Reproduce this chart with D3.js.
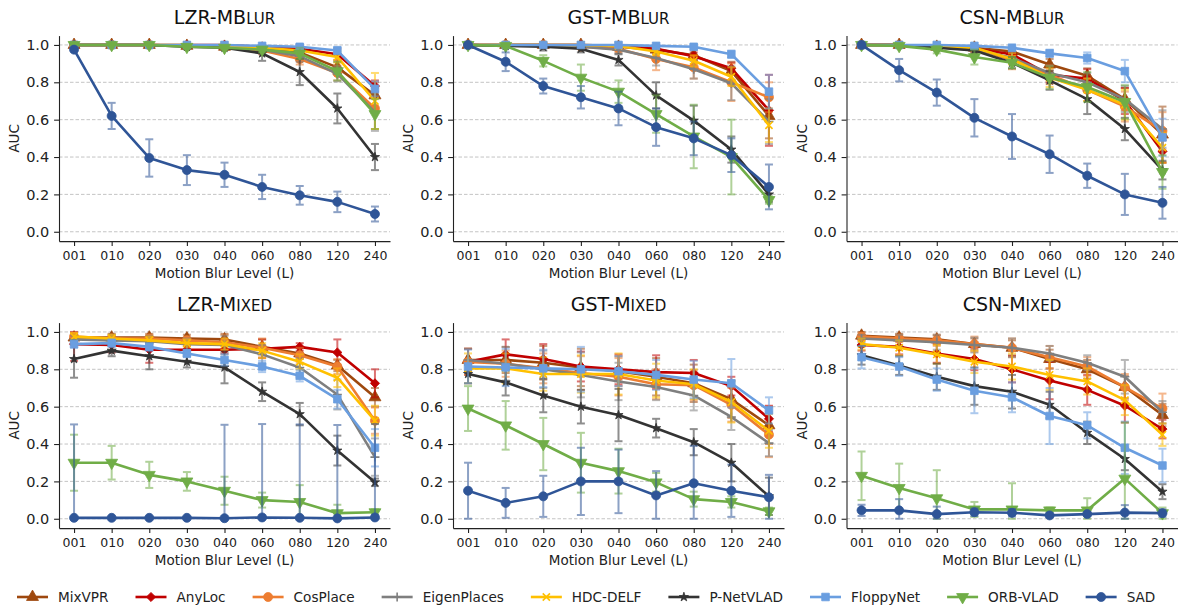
<!DOCTYPE html>
<html>
<head>
<meta charset="utf-8">
<style>
  body { margin: 0; background: #fff; }
  svg { display: block; font-family: "DejaVu Sans", sans-serif; }
</style>
</head>
<body>
<svg width="1180" height="605"></svg>
<script src="https://d3js.org/d3.v7.min.js"></script>
<script>
// ---- data ----
const levels = ["001", "010", "020", "030", "040", "060", "080", "120", "240"];
const methods = ["MixVPR", "AnyLoc", "CosPlace", "EigenPlaces", "HDC-DELF", "P-NetVLAD", "FloppyNet", "ORB-VLAD", "SAD"];
const yTicks = [0.0, 0.2, 0.4, 0.6, 0.8, 1.0];

// rows follow the methods order
const lzrMblurAuc = [
  [1.0, 1.0, 1.0, 0.995, 0.99, 0.98, 0.96, 0.88, 0.73],
  [1.0, 1.0, 1.0, 1.0, 1.0, 0.99, 0.98, 0.95, 0.78],
  [1.0, 1.0, 1.0, 0.995, 0.99, 0.97, 0.925, 0.85, 0.66],
  [1.0, 1.0, 1.0, 0.995, 0.99, 0.975, 0.94, 0.845, 0.64],
  [1.0, 1.0, 1.0, 1.0, 0.995, 0.985, 0.97, 0.935, 0.70],
  [1.0, 1.0, 1.0, 0.99, 0.985, 0.955, 0.855, 0.66, 0.40],
  [1.0, 1.0, 1.0, 1.0, 1.0, 0.995, 0.99, 0.97, 0.765],
  [1.0, 1.0, 1.0, 0.99, 0.985, 0.975, 0.955, 0.86, 0.63],
  [0.975, 0.62, 0.395, 0.33, 0.305, 0.24, 0.195, 0.16, 0.095]
];
const lzrMblurErr = [
  [0, 0, 0, 0.005, 0.01, 0.01, 0.02, 0.03, 0.07],
  [0.01, 0.01, 0.01, 0.01, 0.01, 0.01, 0.02, 0.03, 0.03],
  [0, 0, 0, 0.005, 0.01, 0.02, 0.03, 0.04, 0.11],
  [0, 0, 0, 0.005, 0.01, 0.02, 0.03, 0.04, 0.10],
  [0, 0, 0, 0, 0.005, 0.01, 0.02, 0.03, 0.15],
  [0, 0, 0, 0.01, 0.01, 0.04, 0.07, 0.08, 0.07],
  [0, 0, 0, 0, 0, 0.005, 0.01, 0.02, 0.04],
  [0, 0, 0, 0.01, 0.01, 0.015, 0.03, 0.05, 0.08],
  [0.01, 0.07, 0.1, 0.08, 0.065, 0.065, 0.05, 0.055, 0.04]
];

const gstMblurAuc = [
  [1.0, 1.0, 1.0, 1.0, 0.99, 0.975, 0.945, 0.86, 0.62],
  [1.0, 1.0, 1.0, 1.0, 0.995, 0.98, 0.94, 0.875, 0.65],
  [1.0, 1.0, 1.0, 0.99, 0.98, 0.925, 0.88, 0.80, 0.72],
  [1.0, 1.0, 1.0, 0.99, 0.975, 0.93, 0.87, 0.795, 0.59],
  [1.0, 1.0, 1.0, 1.0, 0.995, 0.965, 0.915, 0.83, 0.57],
  [1.0, 0.995, 0.99, 0.98, 0.92, 0.73, 0.595, 0.44, 0.20],
  [1.0, 1.0, 1.0, 1.0, 1.0, 0.995, 0.99, 0.95, 0.75],
  [1.0, 0.995, 0.915, 0.825, 0.75, 0.63, 0.51, 0.40, 0.17],
  [1.0, 0.91, 0.78, 0.72, 0.66, 0.56, 0.50, 0.41, 0.24]
];
const gstMblurErr = [
  [0, 0, 0, 0.005, 0.01, 0.02, 0.03, 0.05, 0.12],
  [0.01, 0.01, 0.01, 0.01, 0.01, 0.015, 0.02, 0.03, 0.19],
  [0, 0, 0, 0.01, 0.02, 0.06, 0.06, 0.1, 0.08],
  [0, 0, 0, 0.01, 0.02, 0.04, 0.05, 0.09, 0.12],
  [0, 0, 0, 0, 0.005, 0.02, 0.03, 0.05, 0.09],
  [0, 0.01, 0.02, 0.02, 0.03, 0.07, 0.08, 0.07, 0.04],
  [0, 0, 0, 0, 0, 0.005, 0.01, 0.02, 0.09],
  [0, 0.01, 0.03, 0.07, 0.06, 0.1, 0.17, 0.2, 0.02],
  [0.01, 0.05, 0.04, 0.06, 0.09, 0.1, 0.09, 0.09, 0.12]
];

const csnMblurAuc = [
  [1.0, 1.0, 0.99, 0.985, 0.965, 0.895, 0.835, 0.71, 0.52],
  [1.0, 1.0, 0.99, 0.98, 0.95, 0.84, 0.82, 0.70, 0.43],
  [1.0, 1.0, 0.99, 0.98, 0.92, 0.84, 0.76, 0.67, 0.54],
  [1.0, 1.0, 0.99, 0.98, 0.93, 0.85, 0.80, 0.71, 0.55],
  [1.0, 1.0, 0.99, 0.985, 0.925, 0.825, 0.76, 0.68, 0.45],
  [1.0, 1.0, 0.985, 0.97, 0.905, 0.81, 0.71, 0.55, 0.33],
  [1.0, 1.0, 1.0, 0.995, 0.985, 0.955, 0.93, 0.86, 0.505],
  [1.0, 0.995, 0.975, 0.935, 0.905, 0.825, 0.775, 0.695, 0.32],
  [1.0, 0.865, 0.745, 0.61, 0.51, 0.415, 0.30, 0.20, 0.155]
];
const csnMblurErr = [
  [0, 0, 0.01, 0.01, 0.02, 0.03, 0.04, 0.06, 0.15],
  [0.01, 0.01, 0.01, 0.02, 0.03, 0.04, 0.05, 0.07, 0.06],
  [0, 0, 0.01, 0.02, 0.05, 0.05, 0.06, 0.08, 0.1],
  [0, 0, 0.01, 0.02, 0.03, 0.04, 0.05, 0.07, 0.1],
  [0, 0, 0.01, 0.01, 0.03, 0.05, 0.06, 0.08, 0.08],
  [0, 0, 0.01, 0.02, 0.03, 0.05, 0.08, 0.06, 0.05],
  [0, 0, 0, 0.01, 0.01, 0.02, 0.03, 0.06, 0.1],
  [0, 0.01, 0.02, 0.04, 0.03, 0.06, 0.08, 0.09, 0.09],
  [0.01, 0.06, 0.07, 0.1, 0.12, 0.1, 0.065, 0.11, 0.085]
];

const lzrMixedAuc = [
  [0.97, 0.97, 0.97, 0.965, 0.96, 0.92, 0.885, 0.82, 0.65],
  [0.935, 0.93, 0.905, 0.905, 0.905, 0.91, 0.92, 0.89, 0.725],
  [0.975, 0.965, 0.965, 0.955, 0.945, 0.915, 0.875, 0.815, 0.525],
  [0.96, 0.955, 0.95, 0.935, 0.93, 0.88, 0.81, 0.665, 0.33],
  [0.975, 0.965, 0.955, 0.94, 0.935, 0.90, 0.84, 0.755, 0.525],
  [0.855, 0.90, 0.87, 0.84, 0.81, 0.68, 0.56, 0.365, 0.195],
  [0.935, 0.94, 0.92, 0.885, 0.85, 0.815, 0.765, 0.64, 0.38],
  [0.30, 0.30, 0.235, 0.20, 0.15, 0.10, 0.09, 0.03, 0.035],
  [0.005, 0.005, 0.005, 0.005, 0.003, 0.007, 0.005, 0.002, 0.007]
];
const lzrMixedErr = [
  [0.02, 0.02, 0.02, 0.02, 0.03, 0.04, 0.03, 0.03, 0.05],
  [0.09, 0.04, 0.07, 0.02, 0.02, 0.05, 0.02, 0.07, 0.075],
  [0.02, 0.02, 0.02, 0.02, 0.04, 0.05, 0.04, 0.04, 0.07],
  [0.02, 0.03, 0.03, 0.03, 0.05, 0.05, 0.05, 0.08, 0.1],
  [0.02, 0.02, 0.02, 0.02, 0.03, 0.04, 0.04, 0.05, 0.08],
  [0.1, 0.03, 0.07, 0.03, 0.085, 0.05, 0.06, 0.08, 0.02],
  [0.02, 0.02, 0.02, 0.02, 0.03, 0.03, 0.03, 0.05, 0.1],
  [0.15, 0.09, 0.07, 0.05, 0.075, 0.04, 0.09, 0.045, 0.015],
  [0.5, 0, 0, 0, 0.5, 0.5, 0.5, 0.5, 0.5]
];

const gstMixedAuc = [
  [0.85, 0.85, 0.835, 0.81, 0.79, 0.76, 0.725, 0.64, 0.50],
  [0.84, 0.88, 0.855, 0.815, 0.80, 0.785, 0.78, 0.71, 0.535],
  [0.84, 0.83, 0.805, 0.78, 0.76, 0.72, 0.715, 0.61, 0.45],
  [0.85, 0.83, 0.80, 0.77, 0.735, 0.705, 0.66, 0.545, 0.405],
  [0.805, 0.805, 0.775, 0.775, 0.775, 0.74, 0.72, 0.625, 0.47],
  [0.775, 0.73, 0.66, 0.60, 0.555, 0.485, 0.41, 0.30, 0.12],
  [0.815, 0.81, 0.805, 0.80, 0.79, 0.77, 0.745, 0.725, 0.58],
  [0.59, 0.50, 0.40, 0.30, 0.255, 0.195, 0.105, 0.09, 0.04],
  [0.15, 0.085, 0.12, 0.20, 0.20, 0.125, 0.19, 0.15, 0.115]
];
const gstMixedErr = [
  [0.06, 0.07, 0.09, 0.1, 0.08, 0.1, 0.1, 0.1, 0.1],
  [0.07, 0.08, 0.08, 0.08, 0.08, 0.09, 0.07, 0.05, 0.07],
  [0.07, 0.07, 0.08, 0.09, 0.1, 0.08, 0.08, 0.09, 0.12],
  [0.06, 0.09, 0.1, 0.12, 0.1, 0.07, 0.08, 0.07, 0.07],
  [0.08, 0.08, 0.09, 0.1, 0.11, 0.09, 0.08, 0.11, 0.09],
  [0.05, 0.07, 0.09, 0.09, 0.14, 0.05, 0.07, 0.1, 0.1],
  [0.09, 0.1, 0.1, 0.12, 0.08, 0.08, 0.1, 0.13, 0.07],
  [0.12, 0.13, 0.14, 0.16, 0.12, 0.05, 0.04, 0.03, 0.02],
  [0.15, 0.08, 0.11, 0.18, 0.17, 0.13, 0.2, 0.14, 0.12]
];

const csnMixedAuc = [
  [0.98, 0.97, 0.96, 0.935, 0.915, 0.855, 0.80, 0.705, 0.555],
  [0.93, 0.92, 0.885, 0.855, 0.80, 0.74, 0.69, 0.605, 0.48],
  [0.975, 0.965, 0.955, 0.935, 0.915, 0.865, 0.815, 0.705, 0.59],
  [0.965, 0.955, 0.945, 0.93, 0.915, 0.885, 0.835, 0.76, 0.57],
  [0.935, 0.915, 0.88, 0.84, 0.815, 0.77, 0.735, 0.635, 0.45],
  [0.875, 0.82, 0.76, 0.71, 0.68, 0.61, 0.46, 0.32, 0.145],
  [0.865, 0.815, 0.745, 0.685, 0.65, 0.55, 0.50, 0.38, 0.285],
  [0.23, 0.165, 0.11, 0.05, 0.05, 0.045, 0.045, 0.215, 0.03],
  [0.045, 0.045, 0.025, 0.035, 0.032, 0.018, 0.025, 0.033, 0.03]
];
const csnMixedErr = [
  [0.02, 0.02, 0.02, 0.03, 0.04, 0.05, 0.05, 0.06, 0.06],
  [0.03, 0.04, 0.05, 0.06, 0.07, 0.1, 0.08, 0.09, 0.05],
  [0.02, 0.02, 0.03, 0.04, 0.05, 0.06, 0.05, 0.07, 0.08],
  [0.02, 0.03, 0.04, 0.04, 0.05, 0.04, 0.04, 0.09, 0.06],
  [0.03, 0.04, 0.05, 0.06, 0.07, 0.08, 0.07, 0.08, 0.06],
  [0.05, 0.05, 0.07, 0.1, 0.09, 0.07, 0.06, 0.06, 0.04],
  [0.06, 0.05, 0.06, 0.12, 0.08, 0.15, 0.07, 0.14, 0.09],
  [0.13, 0.13, 0.15, 0.04, 0.14, 0.015, 0.065, 0.3, 0.03],
  [0.03, 0.06, 0.04, 0.02, 0.02, 0.01, 0.01, 0.04, 0.02]
];

const panelAuc = [lzrMblurAuc, gstMblurAuc, csnMblurAuc, lzrMixedAuc, gstMixedAuc, csnMixedAuc];
const panelErr = [lzrMblurErr, gstMblurErr, csnMblurErr, lzrMixedErr, gstMixedErr, csnMixedErr];
const titleHead = ["LZR-MB", "GST-MB", "CSN-MB", "LZR-M", "GST-M", "CSN-M"];
const titleTail = ["LUR", "LUR", "LUR", "IXED", "IXED", "IXED"];

// ---- styles ----
const colors = ["#9e480e", "#c00000", "#ed7d31", "#7f7f7f", "#ffc000", "#333333", "#6a9ee0", "#70ad47", "#2f5597"];
const markers = ["triUp", "diamond", "circle", "plus", "cross", "star", "square", "triDown", "circle"];

// ---- layout ----
const svg = d3.select("svg");
const plotW = 331, plotH = 205.5;
const lefts = [59, 453, 846.5];
const tops = [35.6, 322.6];

const x = d3.scalePoint().domain(levels).range([0, plotW]).padding(0.4);
const y = d3.scaleLinear().domain([-0.05, 1.05]).range([plotH, 0]);

// draw one marker of a given kind into a group
function drawMarker(g, kind, color) {
  if (kind === "plus") {
    g.append("path").attr("d", "M-4.5,0H4.5M0,-4.5V4.5")
      .attr("stroke", color).attr("stroke-width", 1.6).attr("fill", "none");
  } else if (kind === "cross") {
    g.append("path").attr("d", "M-3.6,-3.6L3.6,3.6M-3.6,3.6L3.6,-3.6")
      .attr("stroke", color).attr("stroke-width", 1.6).attr("fill", "none");
  } else {
    const types = {
      circle: [d3.symbolCircle, 64, 0],
      square: [d3.symbolSquare, 58, 0],
      diamond: [d3.symbolSquare, 42, 45],
      triUp: [d3.symbolTriangle, 62, 0],
      triDown: [d3.symbolTriangle, 62, 180],
      star: [d3.symbolStar, 26, 0]
    };
    const [t, s, rot] = types[kind];
    g.append("path").attr("d", d3.symbol(t, s)())
      .attr("transform", `rotate(${rot})`)
      .attr("fill", color).attr("stroke", color).attr("stroke-width", 0.8);
  }
}

panelAuc.forEach((auc, p) => {
  const col = p % 3, row = Math.floor(p / 3);
  const g = svg.append("g").attr("transform", `translate(${lefts[col]},${tops[row]})`);

  // dashed horizontal grid
  g.append("g").selectAll("line")
    .data(yTicks)
    .join("line")
    .attr("x1", 0).attr("x2", plotW)
    .attr("y1", d => y(d)).attr("y2", d => y(d))
    .attr("stroke", "#bdbdbd").attr("stroke-width", 0.9)
    .attr("stroke-dasharray", "3.5,2");

  // series
  const clip = v => Math.max(0, Math.min(1, v));
  auc.forEach((vals, m) => {
    const err = panelErr[p][m];
    const c = colors[m];
    const s = g.append("g");

    // error bars
    const eb = s.append("g").attr("stroke", c).attr("stroke-width", 2).attr("opacity", 0.55);
    vals.forEach((v, i) => {
      if (!err[i]) return;
      const cx = x(levels[i]);
      const lo = y(clip(v - err[i])), hi = y(clip(v + err[i]));
      eb.append("line").attr("x1", cx).attr("x2", cx).attr("y1", lo).attr("y2", hi);
      eb.append("line").attr("x1", cx - 4).attr("x2", cx + 4).attr("y1", lo).attr("y2", lo);
      eb.append("line").attr("x1", cx - 4).attr("x2", cx + 4).attr("y1", hi).attr("y2", hi);
    });

    s.append("path")
      .datum(vals)
      .attr("fill", "none")
      .attr("stroke", c)
      .attr("stroke-width", 2.6)
      .attr("stroke-linejoin", "round")
      .attr("d", d3.line().x((d, i) => x(levels[i])).y(d => y(d)));

    vals.forEach((v, i) => {
      const mg = s.append("g").attr("transform", `translate(${x(levels[i])},${y(v)})`);
      drawMarker(mg, markers[m], c);
    });
  });

  // axes
  const ax = g.append("g")
    .attr("transform", `translate(0,${plotH})`)
    .call(d3.axisBottom(x).tickSize(4.9).tickSizeOuter(0).tickPadding(5.5));
  ax.selectAll("text").attr("font-size", 12.5).attr("fill", "#222").attr("font-family", "DejaVu Sans");

  const ay = g.append("g")
    .call(d3.axisLeft(y).tickValues(yTicks).tickFormat(d3.format(".1f")).tickSize(4.9).tickSizeOuter(0).tickPadding(4.9));
  ay.selectAll("text").attr("font-size", 14.5).attr("fill", "#222").attr("font-family", "DejaVu Sans");

  [ax, ay].forEach(a => {
    a.select(".domain").attr("stroke", "#222").attr("stroke-width", 1.1);
    a.selectAll(".tick line").attr("stroke", "#222").attr("stroke-width", 1.1);
  });

  // labels
  g.append("text")
    .attr("transform", `translate(-40,${plotH / 2}) rotate(-90)`)
    .attr("text-anchor", "middle")
    .attr("font-size", 13.5).attr("fill", "#222")
    .text("AUC");

  g.append("text")
    .attr("x", plotW / 2).attr("y", plotH + 37)
    .attr("text-anchor", "middle")
    .attr("font-size", 13.5).attr("fill", "#222")
    .text("Motion Blur Level (L)");

  const t = g.append("text")
    .attr("x", plotW / 2).attr("y", -11.6)
    .attr("text-anchor", "middle")
    .attr("font-size", 19).attr("fill", "#111");
  t.append("tspan").text(titleHead[p]);
  t.append("tspan").attr("font-size", 15).text(titleTail[p]);
});

// legend along the bottom
const legend = svg.append("g").attr("transform", "translate(17,597)");
let lx = 0;
methods.forEach((name, m) => {
  const item = legend.append("g").attr("transform", `translate(${lx},0)`);
  item.append("line").attr("x1", 0).attr("x2", 31).attr("y1", 0).attr("y2", 0)
    .attr("stroke", colors[m]).attr("stroke-width", 2.6);
  drawMarker(item.append("g").attr("transform", "translate(15.5,0)"), markers[m], colors[m]);
  const txt = item.append("text").attr("x", 41).attr("y", 5)
    .attr("font-size", 13.6).attr("fill", "#222").text(name);
  lx += 41 + txt.node().getComputedTextLength() + 27;
});
</script>
</body>
</html>
